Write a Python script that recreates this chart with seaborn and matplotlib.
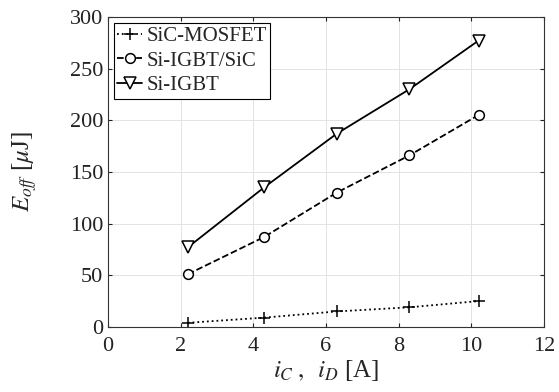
import numpy as np
import pandas as pd
import seaborn as sns
import matplotlib.pyplot as plt

# Current values [A]
current = [2.2, 4.3, 6.3, 8.3, 10.2]
# Turn-off energy [uJ]
e_sic_mosfet = [4, 9, 15, 19, 25]
e_si_igbt_sic = [51, 87, 130, 166, 205]
e_si_igbt = [77, 135, 187, 230, 277]

series_names = ['SiC-MOSFET', 'Si-IGBT/SiC', 'Si-IGBT']

df = pd.DataFrame({
    'i': current * 3,
    'E': e_sic_mosfet + e_si_igbt_sic + e_si_igbt,
    'device': sum([[n] * len(current) for n in series_names], []),
})

sns.set_style('whitegrid')
plt.rcParams['font.family'] = ['Liberation Serif', 'DejaVu Serif']
plt.rcParams['mathtext.fontset'] = 'stix'

fig = plt.figure(figsize=(5.59, 3.92), dpi=100)
ax = fig.add_axes([0.193, 0.166, 0.78, 0.791])

styles = {
    'SiC-MOSFET': dict(ls=':', marker='+', ms=9, mfc='none'),
    'Si-IGBT/SiC': dict(ls='--', marker='o', ms=7, mfc='white'),
    'Si-IGBT': dict(ls='-', marker='v', ms=8, mfc='white'),
}
for name in series_names:
    sub = df[df['device'] == name]
    sns.lineplot(data=sub, x='i', y='E', ax=ax, color='black', lw=1.3,
                 mec='black', mew=1.1, label=name, **styles[name])

ax.set_xlim(0, 12)
ax.set_ylim(0, 300)
ax.set_xticks(np.arange(0, 13, 2))
ax.set_yticks(np.arange(0, 301, 50))
ax.grid(True, color='#e3e3e3', lw=0.7)
for s in ax.spines.values():
    s.set_color('#333333')
    s.set_linewidth(0.8)
ax.tick_params(direction='in', length=3, labelsize=16, colors='#222222',
               top=True, right=True, bottom=True, left=True)
ax.tick_params(axis='x', pad=7)
ax.set_xlabel(r'$i_C\;,\;\; i_D$ [A]', fontsize=18, labelpad=2)
ax.set_ylabel(r'$E_{off}$ [$\mu$J]', fontsize=18, labelpad=22)

leg = ax.legend(loc='upper left', fontsize=15, frameon=True, fancybox=False,
                handlelength=1.2, handletextpad=0.2, borderpad=0.15,
                labelspacing=0.25, borderaxespad=0.3)
leg.get_frame().set_edgecolor('black')
leg.get_frame().set_linewidth(0.8)
leg.get_frame().set_alpha(1)

fig.savefig('out.png', dpi=100)
